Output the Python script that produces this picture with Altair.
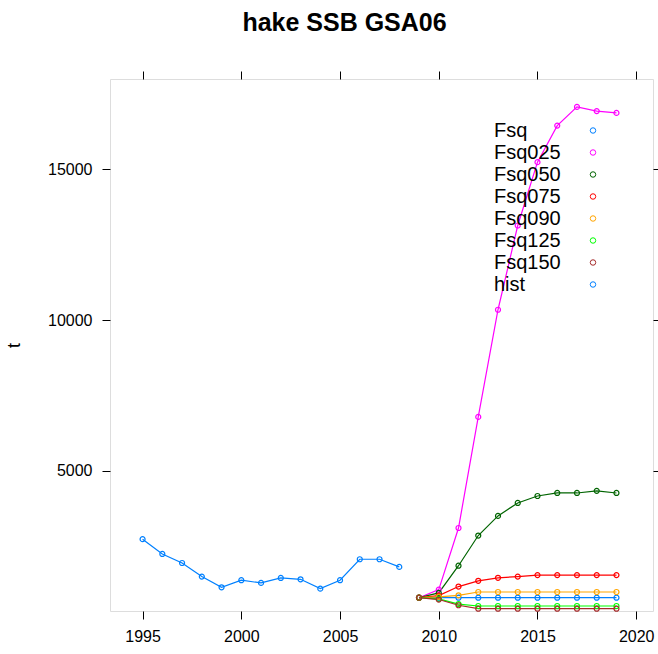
import altair as alt
import pandas as pd

# Historical spawning stock biomass (t)
hist_years = [1995, 1996, 1997, 1998, 1999, 2000, 2001, 2002, 2003, 2004, 2005, 2006, 2007, 2008]
hist_ssb = [2740, 2250, 1950, 1500, 1145, 1380, 1290, 1455, 1410, 1100, 1380, 2075, 2075, 1820]

# Projections under alternative fishing mortality scenarios
proj_years = [2009, 2010, 2011, 2012, 2013, 2014, 2015, 2016, 2017, 2018, 2019]
fsq = [801, 801, 801, 801, 801, 801, 801, 801, 801, 801, 801]
fsq025 = [801, 1070, 3110, 6790, 10340, 13130, 15230, 16440, 17060, 16920, 16860]
fsq050 = [801, 960, 1860, 2860, 3510, 3940, 4170, 4270, 4270, 4340, 4270]
fsq075 = [801, 870, 1170, 1360, 1460, 1500, 1550, 1550, 1550, 1550, 1550]
fsq090 = [801, 830, 880, 990, 990, 990, 990, 990, 990, 990, 990]
fsq125 = [801, 760, 590, 525, 525, 525, 525, 525, 525, 525, 525]
fsq150 = [801, 740, 550, 436, 436, 436, 436, 436, 436, 436, 436]

series_names = ["Fsq", "Fsq025", "Fsq050", "Fsq075", "Fsq090", "Fsq125", "Fsq150", "hist"]
series_colors = ["#0080ff", "#ff00ff", "#006400", "#ff0000", "#ffa500", "#00ff00", "#a52a2a", "#0080ff"]

x_ticks = [1995, 2000, 2005, 2010, 2015, 2020]
y_ticks = [5000, 10000, 15000]

rows = []
for name, vals in zip(series_names[:-1], [fsq, fsq025, fsq050, fsq075, fsq090, fsq125, fsq150]):
    for yr, v in zip(proj_years, vals):
        rows.append({"year": yr, "ssb": v, "series": name})
for yr, v in zip(hist_years, hist_ssb):
    rows.append({"year": yr, "ssb": v, "series": "hist"})
df = pd.DataFrame(rows)

FONT = "Liberation Sans"
x_scale = alt.Scale(domain=[1993.35, 2020.85], nice=False, zero=False)
y_scale = alt.Scale(domain=[360, 17984], nice=False, zero=False)

axis_common = dict(
    tickSize=8, tickColor="#000000", tickWidth=1, domain=False, grid=False,
    labelFont=FONT, labelFontSize=16, labelColor="#000000",
)

lines = alt.Chart(df).mark_line(
    strokeWidth=1.2,
    point=alt.OverlayMarkDef(filled=False, size=25, strokeWidth=1.2, shape="circle"),
).encode(
    x=alt.X("year:Q", scale=x_scale,
            axis=alt.Axis(values=x_ticks, format="d", title=None, orient="bottom",
                          labelPadding=9, **axis_common)),
    y=alt.Y("ssb:Q", scale=y_scale,
            axis=alt.Axis(values=y_ticks, format="d", title="t", orient="left",
                          labelPadding=10, titleFont=FONT, titleFontSize=18,
                          titleFontWeight="normal", titleColor="#000000",
                          titlePadding=24, **axis_common)),
    color=alt.Color("series:N",
                    scale=alt.Scale(domain=series_names, range=series_colors),
                    legend=alt.Legend(
                        title=None, orient="none", legendX=473, legendY=41.5,
                        symbolType="circle", symbolSize=30, symbolStrokeWidth=1,
                        symbolFillColor="white", labelFont=FONT, labelFontSize=20,
                        labelColor="#000000", labelOffset={"expr": "-109"},
                        labelAlign="left", rowPadding=2, padding=0)),
    order=alt.Order("year:Q"),
)

# Tick marks on the top and right sides of the box
frame_ticks = alt.Chart(df).mark_point(opacity=0).encode(
    x=alt.X("year:Q", scale=x_scale,
            axis=alt.Axis(values=x_ticks, orient="top", labels=False, title=None,
                          **axis_common)),
    y=alt.Y("ssb:Q", scale=y_scale,
            axis=alt.Axis(values=y_ticks, orient="right", labels=False, title=None,
                          **axis_common)),
)

chart = alt.layer(lines, frame_ticks).resolve_axis(
    x="independent", y="independent"
).properties(
    width=543, height=532,
    title=alt.TitleParams("hake SSB GSA06", font=FONT, fontSize=25, fontWeight="bold",
                          color="#000000", anchor="middle", dx=-37, offset=15,
                          baseline="alphabetic"),
    autosize=alt.AutoSizeParams(type="none"),
    padding={"left": 110, "top": 79, "right": 5, "bottom": 43},
).configure_view(stroke="#000000", strokeWidth=1).configure(background="white")

chart.save("out.html", embed_options={"renderer": "svg", "actions": False})
